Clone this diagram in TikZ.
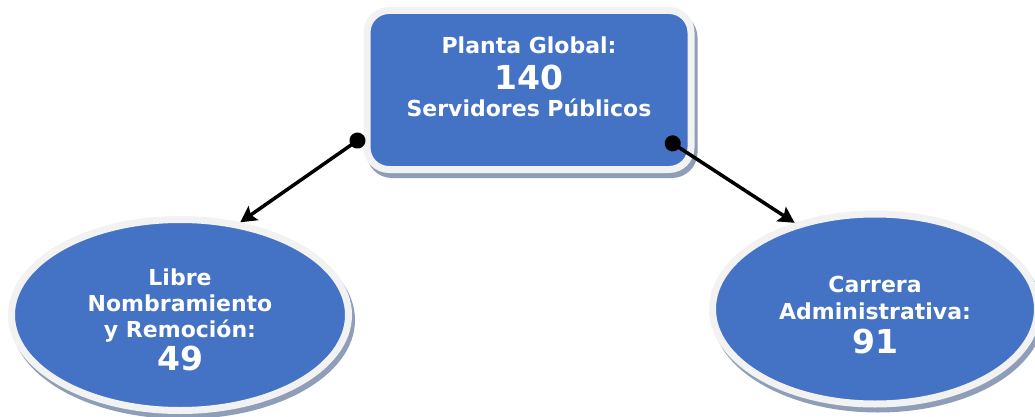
\documentclass[tikz,border=0pt]{standalone}
\usepackage{fontspec}
\setmainfont{DejaVu Sans}
\usetikzlibrary{arrows.meta, shapes.geometric, shadows}

\definecolor{boxblue}{RGB}{68,114,196}
\definecolor{rimgray}{RGB}{242,242,242}
\definecolor{shadowblue}{RGB}{143,158,184}

\newcommand{\cifra}[1]{{\fontsize{33}{36}\selectfont #1}}

\tikzset{
  rim/.style={fill=boxblue, draw=rimgray, line width=7pt,
    drop shadow={shadow xshift=3pt, shadow yshift=-5pt, opacity=1,
      fill=shadowblue, draw=shadowblue, line width=7pt}},
  planta/.style={rim, rectangle, rounded corners=22pt, minimum width=324pt, minimum height=159pt},
  grupo/.style={rim, ellipse, inner sep=0pt},
  rotulo/.style={text=white, font=\bfseries\fontsize{22}{26}\selectfont, align=center},
  enlace/.style={line width=3.5pt, {Circle[length=16pt]}-{Stealth[length=16pt,width=17pt,inset=3pt]}}
}

\begin{document}
\begin{tikzpicture}[x=1pt, y=-1pt]
\useasboundingbox (0,0) rectangle (1035,417);

% boxes
\node[planta] (plant) at (529,90) {};
\node[rotulo] (plantTxt) at (529,77) {Planta Global:\\[9.5pt]\cifra{140}\\[1pt]Servidores Públicos};

\node[grupo, minimum width=337pt, minimum height=191pt] (libre) at (180,315) {};
\node[rotulo] (libreTxt) at ([yshift=-5pt]libre.center)
  {Libre\\Nombramiento\\y Remoción:\\[3pt]\cifra{49}};
\node[grupo, minimum width=325pt, minimum height=190pt] (carrera) at (875,309) {};
\node[rotulo] (carreraTxt) at ([yshift=-6pt]carrera.center)
  {Carrera\\[1pt]Administrativa:\\[8pt]\cifra{91}};

% links
\coordinate (dotL) at (364,136);
\coordinate (dotR) at (666,139);
\draw[enlace] (dotL) -- (libre.57);
\draw[enlace] (dotR) -- (carrera.133);

\end{tikzpicture}
\end{document}
